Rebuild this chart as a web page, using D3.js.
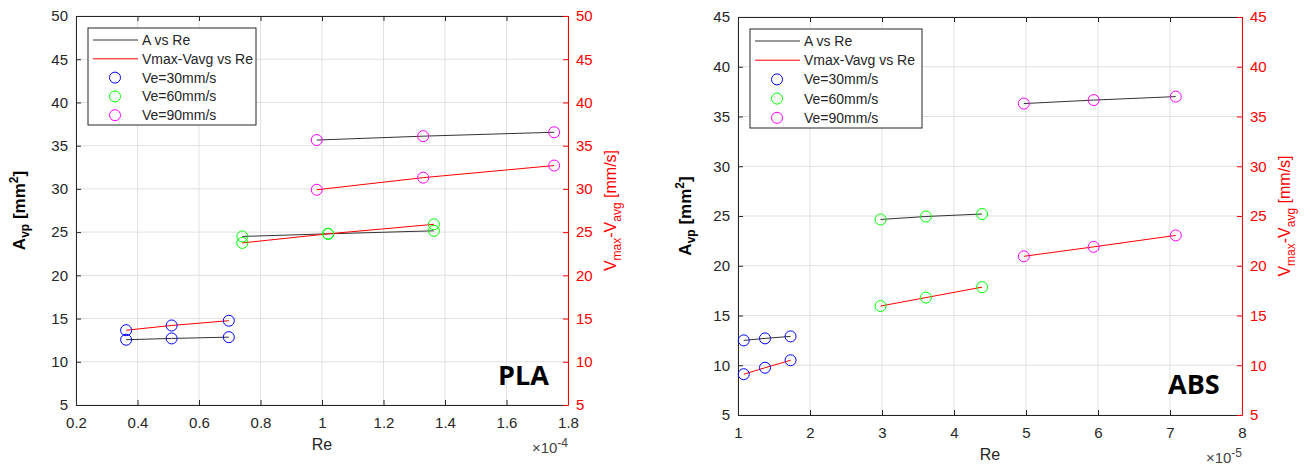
<!DOCTYPE html>
<html>
<head>
<meta charset="utf-8">
<script src="https://cdn.jsdelivr.net/npm/d3@7"></script>
<style>
  body { margin: 0; background: #fff; }
  svg { font-family: "Liberation Sans", Arial, sans-serif; }
</style>
</head>
<body>
<svg id="fig" width="1312" height="467"></svg>
<script>
// legend labels
var legendLabels = ["A vs Re", "Vmax-Vavg vs Re", "Ve=30mm/s", "Ve=60mm/s", "Ve=90mm/s"];
var speedColors = ["#0000ff", "#00ff00", "#ff00ff"];

// PLA (Re in units of 1e-4)
var plaRe30 = [0.363, 0.511, 0.697];
var plaA30  = [12.55, 12.7, 12.85];
var plaV30  = [13.65, 14.2, 14.75];
var plaRe60 = [0.741, 1.02, 1.364];
var plaA60  = [24.5, 24.8, 25.15];
var plaV60  = [23.75, 24.8, 25.9];
var plaRe90 = [0.983, 1.329, 1.755];
var plaA90  = [35.65, 36.1, 36.55];
var plaV90  = [29.9, 31.3, 32.7];
var plaXTicks = [0.2, 0.4, 0.6, 0.8, 1, 1.2, 1.4, 1.6, 1.8];
var plaYTicks = [5, 10, 15, 20, 25, 30, 35, 40, 45, 50];

// ABS (Re in units of 1e-5)
var absRe30 = [1.08, 1.375, 1.73];
var absA30  = [12.5, 12.7, 12.9];
var absV30  = [9.1, 9.75, 10.5];
var absRe60 = [2.98, 3.61, 4.39];
var absA60  = [24.65, 24.95, 25.2];
var absV60  = [15.95, 16.8, 17.85];
var absRe90 = [4.97, 5.94, 7.08];
var absA90  = [36.3, 36.65, 37.0];
var absV90  = [20.95, 21.9, 23.05];
var absXTicks = [1, 2, 3, 4, 5, 6, 7, 8];
var absYTicks = [5, 10, 15, 20, 25, 30, 35, 40, 45];

var svg = d3.select("#fig");
var axisColor = "#262626";
var fmt = d3.format("~g");

function drawPanel(cfg)
{
  var g = svg.append("g");
  var x = d3.scaleLinear().domain(cfg.xDomain).range([cfg.left, cfg.right]);
  var y = d3.scaleLinear().domain(cfg.yDomain).range([cfg.bottom, cfg.top]);

  // grid
  g.selectAll(".gx").data(cfg.xTicks).enter().append("line")
    .attr("x1", d => x(d)).attr("x2", d => x(d))
    .attr("y1", cfg.top).attr("y2", cfg.bottom)
    .attr("stroke", "#e1e1e1").attr("stroke-width", 1);
  g.selectAll(".gy").data(cfg.yTicks).enter().append("line")
    .attr("x1", cfg.left).attr("x2", cfg.right)
    .attr("y1", d => y(d)).attr("y2", d => y(d))
    .attr("stroke", "#e1e1e1").attr("stroke-width", 1);

  // axes (ticks point inward)
  g.append("g").attr("transform", "translate(0," + cfg.bottom + ")")
    .call(d3.axisBottom(x).tickValues(cfg.xTicks).tickFormat(fmt).tickSizeInner(-5).tickSizeOuter(0).tickPadding(12))
    .call(a => a.selectAll("text").attr("font-size", 15).attr("fill", axisColor))
    .call(a => a.selectAll("line, path").attr("stroke", axisColor));
  g.append("g").attr("transform", "translate(0," + cfg.top + ")")
    .call(d3.axisTop(x).tickValues(cfg.xTicks).tickSizeInner(-5).tickSizeOuter(0).tickFormat(""))
    .call(a => a.selectAll("line, path").attr("stroke", axisColor));
  g.append("g").attr("transform", "translate(" + cfg.left + ",0)")
    .call(d3.axisLeft(y).tickValues(cfg.yTicks).tickSizeInner(-5).tickSizeOuter(0).tickPadding(8))
    .call(a => a.selectAll("text").attr("font-size", 15).attr("fill", axisColor))
    .call(a => a.selectAll("line, path").attr("stroke", axisColor));
  g.append("g").attr("transform", "translate(" + cfg.right + ",0)")
    .call(d3.axisRight(y).tickValues(cfg.yTicks).tickSizeInner(-5).tickSizeOuter(0).tickPadding(8))
    .call(a => a.selectAll("text").attr("font-size", 15).attr("fill", "#ff0000"))
    .call(a => a.selectAll("line, path").attr("stroke", "#ff0000"));

  // lines and markers
  var line = d3.line().x(d => x(d[0])).y(d => y(d[1]));
  cfg.groups.forEach(function(grp, i)
  {
    var aPts = d3.zip(grp.re, grp.a);
    var vPts = d3.zip(grp.re, grp.v);
    g.append("path").datum(aPts).attr("d", line)
      .attr("fill", "none").attr("stroke", "#333").attr("stroke-width", 1);
    g.append("path").datum(vPts).attr("d", line)
      .attr("fill", "none").attr("stroke", "#ff0000").attr("stroke-width", 1);
    g.selectAll(null).data(aPts.concat(vPts)).enter().append("circle")
      .attr("cx", d => x(d[0])).attr("cy", d => y(d[1])).attr("r", 5.5)
      .attr("fill", "none").attr("stroke", speedColors[i]).attr("stroke-width", 1);
  });

  // axis labels
  var mid = (cfg.left + cfg.right) / 2;
  g.append("text").attr("x", mid).attr("y", cfg.bottom + 45)
    .attr("text-anchor", "middle").attr("font-size", 16).attr("fill", axisColor).text("Re");

  var ex = g.append("text").attr("x", cfg.right).attr("y", cfg.bottom + 48)
    .attr("text-anchor", "end").attr("font-size", 15).attr("fill", "#444");
  ex.append("tspan").text("\u00d710");
  ex.append("tspan").attr("dy", -6).attr("font-size", 12).text(cfg.exponent);

  var yl = g.append("text")
    .attr("transform", "translate(" + cfg.yLabelX + "," + (cfg.top + cfg.bottom) / 2 + ") rotate(-90)")
    .attr("text-anchor", "middle").attr("font-size", 17).attr("font-weight", "bold").attr("fill", "#000");
  yl.append("tspan").text("A");
  yl.append("tspan").attr("dy", 4).attr("font-size", 12).text("vp");
  yl.append("tspan").attr("dy", -4).text(" [mm");
  yl.append("tspan").attr("dy", -7).attr("font-size", 12).text("2");
  yl.append("tspan").attr("dy", 7).text("]");

  var yr = g.append("text")
    .attr("transform", "translate(" + (cfg.right + 48) + "," + (cfg.top + cfg.bottom) / 2 + ") rotate(-90)")
    .attr("text-anchor", "middle").attr("font-size", 16).attr("fill", "#ff0000");
  yr.append("tspan").text("V");
  yr.append("tspan").attr("dy", 5).attr("font-size", 12).text("max");
  yr.append("tspan").attr("dy", -5).text("-V");
  yr.append("tspan").attr("dy", 5).attr("font-size", 12).text("avg");
  yr.append("tspan").attr("dy", -5).text(" [mm/s]");

  // material tag
  g.append("text").attr("x", cfg.tagX).attr("y", cfg.tagY)
    .attr("font-family", "'Open Sans', 'Noto Sans', sans-serif")
    .attr("font-weight", "bold").attr("font-size", 27).attr("fill", "#000").text(cfg.tag);

  // legend
  var lg = cfg.legend;
  g.append("rect").attr("x", lg.x).attr("y", lg.y).attr("width", lg.w).attr("height", lg.h)
    .attr("fill", "#fff").attr("stroke", axisColor).attr("stroke-width", 1);
  legendLabels.forEach(function(lbl, i)
  {
    var ry = lg.y + 12 + i * lg.gap;
    if (i < 2)
    {
      g.append("line").attr("x1", lg.x + 5).attr("x2", lg.x + 50)
        .attr("y1", ry).attr("y2", ry)
        .attr("stroke", i === 0 ? "#333" : "#ff0000").attr("stroke-width", 1);
    }
    else
    {
      g.append("circle").attr("cx", lg.x + 27).attr("cy", ry).attr("r", 5.5)
        .attr("fill", "none").attr("stroke", speedColors[i - 2]).attr("stroke-width", 1);
    }
    g.append("text").attr("x", lg.x + 54).attr("y", ry + 5)
      .attr("font-size", 14).attr("fill", axisColor).text(lbl);
  });
}

drawPanel({
  left: 76, right: 568, top: 16, bottom: 405,
  xDomain: [0.2, 1.8], yDomain: [5, 50],
  xTicks: plaXTicks, yTicks: plaYTicks, exponent: "-4",
  yLabelX: 25, tag: "PLA", tagX: 498, tagY: 385,
  legend: { x: 88, y: 28, w: 168, h: 97, gap: 18.8 },
  groups: [
    { re: plaRe30, a: plaA30, v: plaV30 },
    { re: plaRe60, a: plaA60, v: plaV60 },
    { re: plaRe90, a: plaA90, v: plaV90 }
  ]
});

drawPanel({
  left: 738, right: 1242, top: 17, bottom: 415,
  xDomain: [1, 8], yDomain: [5, 45],
  xTicks: absXTicks, yTicks: absYTicks, exponent: "-5",
  yLabelX: 691, tag: "ABS", tagX: 1168, tagY: 394,
  legend: { x: 750, y: 29, w: 172, h: 99, gap: 19.2 },
  groups: [
    { re: absRe30, a: absA30, v: absV30 },
    { re: absRe60, a: absA60, v: absV60 },
    { re: absRe90, a: absA90, v: absV90 }
  ]
});
</script>
</body>
</html>
